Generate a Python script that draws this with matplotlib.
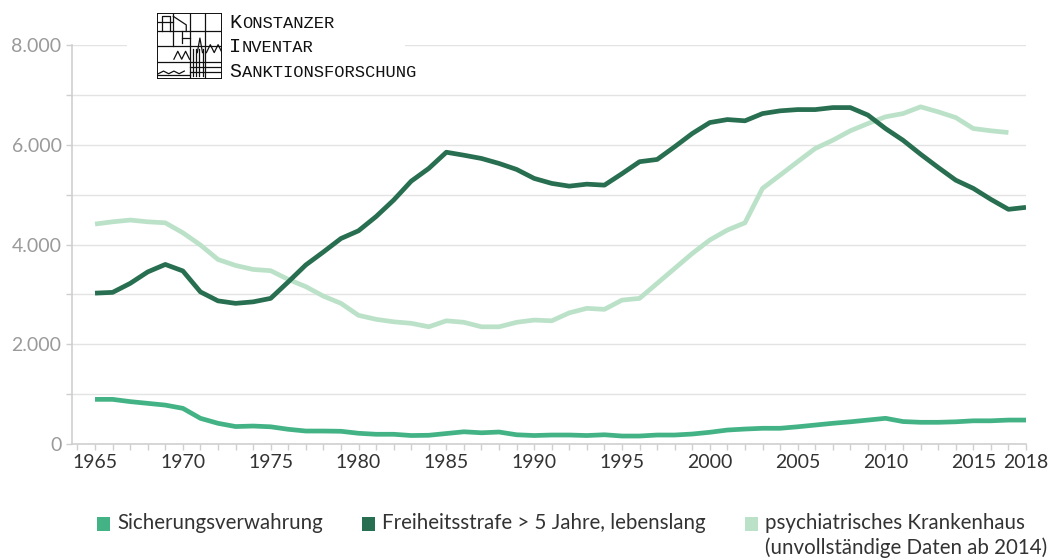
import matplotlib
matplotlib.use("Agg")
import matplotlib.pyplot as plt
from matplotlib.patches import Rectangle
from matplotlib.ticker import FuncFormatter, MultipleLocator, FixedLocator

# Daten
years = list(range(1965, 2019))
sicherung = [895, 895, 850, 815, 780, 715, 515, 415, 350, 360,
             345, 295, 260, 260, 255, 215, 195, 195, 170, 175,
             210, 245, 225, 240, 185, 170, 180, 180, 170, 185,
             160, 160, 180, 180, 200, 235, 280, 300, 315, 315,
             345, 380, 415, 445, 480, 515, 450, 435, 435, 445,
             465, 465, 480, 480]
freiheit = [3025, 3040, 3220, 3450, 3600, 3470, 3050, 2870, 2820, 2850,
            2920, 3250, 3590, 3850, 4120, 4275, 4560, 4890, 5270, 5525,
            5850, 5790, 5725, 5625, 5505, 5325, 5225, 5170, 5210, 5190,
            5420, 5660, 5705, 5960, 6225, 6445, 6505, 6480, 6625, 6680,
            6705, 6705, 6745, 6745, 6595, 6325, 6090, 5810, 5545, 5290,
            5125, 4905, 4705, 4745]
psych_years = list(range(1965, 2018))
psych = [4410, 4455, 4490, 4455, 4435, 4235, 3990, 3700, 3580, 3500,
         3475, 3300, 3155, 2965, 2820, 2580, 2500, 2450, 2420, 2350,
         2470, 2440, 2350, 2350, 2440, 2485, 2470, 2630, 2720, 2700,
         2885, 2920, 3220, 3520, 3820, 4090, 4290, 4435, 5125, 5390,
         5660, 5925, 6090, 6280, 6425, 6560, 6625, 6760, 6660, 6545,
         6325, 6280, 6245]

labels = ["Sicherungsverwahrung", "Freiheitsstrafe > 5 Jahre, lebenslang",
          "psychiatrisches Krankenhaus\n(unvollständige Daten ab 2014)"]
colors = ["#43b386", "#286e50", "#bbe2c9"]
xticks = [1965, 1970, 1975, 1980, 1985, 1990, 1995, 2000, 2005, 2010, 2015, 2018]

W, H = 1049, 560
fig = plt.figure(figsize=(W / 100, H / 100), dpi=100)
ax = fig.add_axes([72 / W, 1 - 444 / H, (1026 - 72) / W, (444 - 45) / H])

lw = 3.4
ax.plot(psych_years, psych, color=colors[2], lw=lw, solid_capstyle="butt", zorder=3)
ax.plot(years, sicherung, color=colors[0], lw=lw, solid_capstyle="butt", zorder=4)
ax.plot(years, freiheit, color=colors[1], lw=lw, solid_capstyle="butt", zorder=5)

ax.set_xlim(1965 - 23 / 17.55, 2018)
ax.set_ylim(0, 8000)

ax.yaxis.set_major_locator(MultipleLocator(2000))
ax.yaxis.set_minor_locator(MultipleLocator(1000))
ax.yaxis.set_major_formatter(FuncFormatter(lambda v, p: f"{int(v):,}".replace(",", ".")))
ax.xaxis.set_major_locator(FixedLocator(xticks))
ax.xaxis.set_minor_locator(MultipleLocator(1))

ax.grid(True, which="both", axis="y", color="#e3e3e3", lw=1)
ax.set_axisbelow(True)
for s in ["top", "right"]:
    ax.spines[s].set_visible(False)
for s in ["left", "bottom"]:
    ax.spines[s].set_color("#cfcfcf")
    ax.spines[s].set_linewidth(1.2)

tick_font = ["Lato", "DejaVu Sans"]
ax.tick_params(axis="both", which="both", direction="out", length=4.5, color="#cfcfcf", width=1)
ax.tick_params(axis="y", labelsize=14, labelcolor="#9a9a9a", pad=3)
ax.tick_params(axis="x", labelsize=14, labelcolor="#333333", pad=3)
for t in ax.get_xticklabels() + ax.get_yticklabels():
    t.set_family(tick_font)

# weisser Hintergrund hinter dem Logo
fig.patches.append(Rectangle((127 / W, 1 - 60 / H), (405 - 127) / W, 26 / H,
                             transform=fig.transFigure, facecolor="white",
                             edgecolor="none", zorder=1))

# Logo (vereinfachte Zeichnung)
lax = fig.add_axes([157 / W, 1 - 79 / H, 65 / W, 66 / H], zorder=2)
lax.set_xlim(0, 1)
lax.set_ylim(0, 1)
lax.axis("off")
lax.add_patch(Rectangle((0, 0), 1, 1, fill=False, lw=1.4, ec="#111111"))
lk = dict(color="#111111", lw=0.9)
for x in [0.5, 0.74]:
    lax.plot([x, x], [0, 1], **lk)
for y in [0.72, 0.5, 0.25]:
    lax.plot([0, 1], [y, y], **lk)
lax.plot([0.25, 0.25], [0.5, 1], **lk)
lax.plot([0.38, 0.38], [0.55, 0.72], **lk)
lax.plot([0.38, 0.5], [0.62, 0.62], **lk)
lax.plot([0.0, 0.5], [0.06, 0.06], **lk)
lax.plot([0.5, 1.0], [0.18, 0.18], **lk)
lax.plot([0.5, 1.0], [0.10, 0.10], **lk)
lax.plot([0.08, 0.08, 0.2, 0.2], [0.72, 0.96, 0.96, 0.72], **lk)
lax.plot([0.0, 0.25], [0.86, 0.86], **lk)
lax.plot([0.25, 0.45, 0.45], [0.95, 0.82, 0.72], **lk)
lax.plot([0.62, 0.66, 0.70], [0.4, 0.62, 0.4], **lk)
for x in [0.55, 0.6, 0.65, 0.7]:
    lax.plot([x, x], [0.05, 0.45], **lk)
lax.plot([0.26, 0.32, 0.38, 0.44, 0.5], [0.3, 0.42, 0.3, 0.42, 0.3], **lk)
lax.plot([0.76, 0.82, 0.88, 0.94, 1.0], [0.4, 0.52, 0.4, 0.52, 0.4], **lk)
lax.plot([0.02, 0.1, 0.18, 0.26, 0.34, 0.42], [0.08, 0.12, 0.08, 0.12, 0.08, 0.12], **lk)

logo_font = ["Liberation Mono", "DejaVu Sans Mono"]
rows = [("K", "ONSTANZER", 28), ("I", "NVENTAR", 52), ("S", "ANKTIONSFORSCHUNG", 77)]
for big, rest, yb in rows:
    fig.text(229 / W, 1 - yb / H, big, fontsize=14.5, family=logo_font,
             color="#111111", va="baseline", ha="left")
    fig.text(242 / W, 1 - yb / H, rest, fontsize=12.3, family=logo_font,
             color="#111111", va="baseline", ha="left")

# Legende
leg_font = ["Lato", "DejaVu Sans"]
leg_x = [97, 362, 745]
for x0, lab, c in zip(leg_x, labels, colors):
    fig.patches.append(Rectangle((x0 / W, 1 - 531 / H), 13 / W, 14 / H,
                                 transform=fig.transFigure, facecolor=c,
                                 edgecolor="none"))
    fig.text((x0 + 20) / W, 1 - 513 / H, lab, fontsize=14.8, family=leg_font,
             color="#333333", va="top", ha="left", linespacing=1.25)

fig.savefig("out.png", dpi=100)
